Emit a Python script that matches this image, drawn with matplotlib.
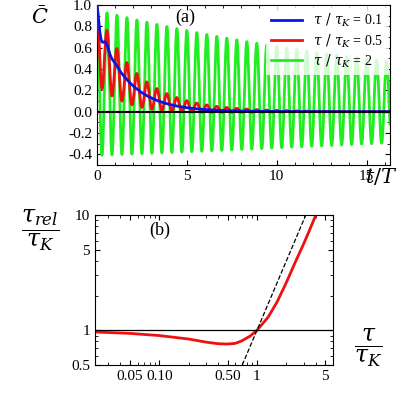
import numpy as np
import matplotlib.pyplot as plt

plt.rcParams['font.family'] = ['Liberation Serif', 'DejaVu Serif']
plt.rcParams['mathtext.fontset'] = 'dejavuserif'

# panel (a): curve parameters
labels = [r'$\tau\ /\ \tau_K$ = 0.1', r'$\tau\ /\ \tau_K$ = 0.5', r'$\tau\ /\ \tau_K$ = 2']
colors = ['#0a14e6', '#f01010', '#20ee20']
zorders = [4, 3, 2]
mean_amp = [0.85, 0.62, 0.27]      # slowly relaxing part
mean_tau = [1.6, 2.0, 14.5]
osc_amp = [0.15, 0.36, 0.68]       # oscillating part
osc_tau = [0.3, 2.6, 28.0]
osc_freq = [1.8, 1.8, 1.8]

# panel (b): tau_rel / tau_K versus tau / tau_K
ratio_x = [0.02, 0.05, 0.1, 0.2, 0.3, 0.4, 0.5, 0.6, 0.7, 0.85, 1.0, 1.3, 1.6, 2.0, 2.5, 3.0, 3.5, 4.0]
ratio_y = [0.97, 0.94, 0.90, 0.84, 0.79, 0.765, 0.76, 0.77, 0.81, 0.89, 1.0, 1.3, 1.75, 2.6, 4.0, 5.6, 7.6, 10.0]
dash_x = [0.707, 3.7]
dash_y = [0.5, 13.7]

fig = plt.figure(figsize=(4, 4), dpi=100)
ax1 = fig.add_axes([0.2425, 0.5875, 0.7325, 0.4])
ax2 = fig.add_axes([0.2375, 0.0875, 0.595, 0.375])

t = np.linspace(0, 16.3, 4000)
for i in range(3):
    c = mean_amp[i] * np.exp(-t / mean_tau[i]) + osc_amp[i] * np.exp(-t / osc_tau[i]) * np.cos(2 * np.pi * osc_freq[i] * t)
    ax1.plot(t, c, color=colors[i], lw=2, label=labels[i], zorder=zorders[i])
ax1.axhline(0, color='k', lw=1.5, zorder=5)
ax1.set_xlim(0, 16.3)
ax1.set_ylim(-0.5, 1.0)
ax1.set_yticks(np.arange(-0.4, 1.01, 0.2))
ax1.set_xticks([0, 5, 10, 15])
ax1.set_xticks(np.arange(0, 16.3, 1), minor=True)
ax1.set_yticks(np.arange(-0.5, 1.01, 0.1), minor=True)
ax1.tick_params(direction='in', top=True, right=True, which='both', labelsize=11)
ax1.yaxis.set_major_formatter(plt.FuncFormatter(lambda v, p: f'{v:.1f}'))
leg = ax1.legend(loc='upper right', frameon=True, fontsize=10, handlelength=2.2,
                 borderaxespad=0.1, labelspacing=0.2, fancybox=False, edgecolor='none')
leg.set_zorder(6)
ax1.text(0.3, 0.92, '(a)', transform=ax1.transAxes, fontsize=13, ha='center', va='center')
fig.text(0.1, 0.955, r'$\bar{C}$', fontsize=15, ha='center', va='center')
fig.text(0.995, 0.555, r'$t/T$', fontsize=15, ha='right', va='center')

ax2.plot(ratio_x, ratio_y, color='#f01010', lw=2)
ax2.plot(dash_x, dash_y, 'k--', lw=0.9)
ax2.axhline(1, color='k', lw=0.9)
ax2.set_xscale('log')
ax2.set_yscale('log')
ax2.set_xlim(0.022, 6)
ax2.set_ylim(0.5, 10)
ax2.set_xticks([0.05, 0.1, 0.5, 1, 5])
ax2.set_xticklabels(['0.05', '0.10', '0.50', '1', '5'])
ax2.set_yticks([0.5, 1, 5, 10])
ax2.set_yticklabels(['0.5', '1', '5', '10'])
ax2.tick_params(direction='in', top=True, right=True, which='both', labelsize=11)
ax2.text(0.27, 0.9, '(b)', transform=ax2.transAxes, fontsize=13, ha='center', va='center')
fig.text(0.1, 0.425, r'$\dfrac{\tau_{rel}}{\tau_K}$', fontsize=17, ha='center', va='center')
fig.text(0.92, 0.13, r'$\dfrac{\tau}{\tau_K}$', fontsize=17, ha='center', va='center')

fig.savefig('out.png', dpi=100)
